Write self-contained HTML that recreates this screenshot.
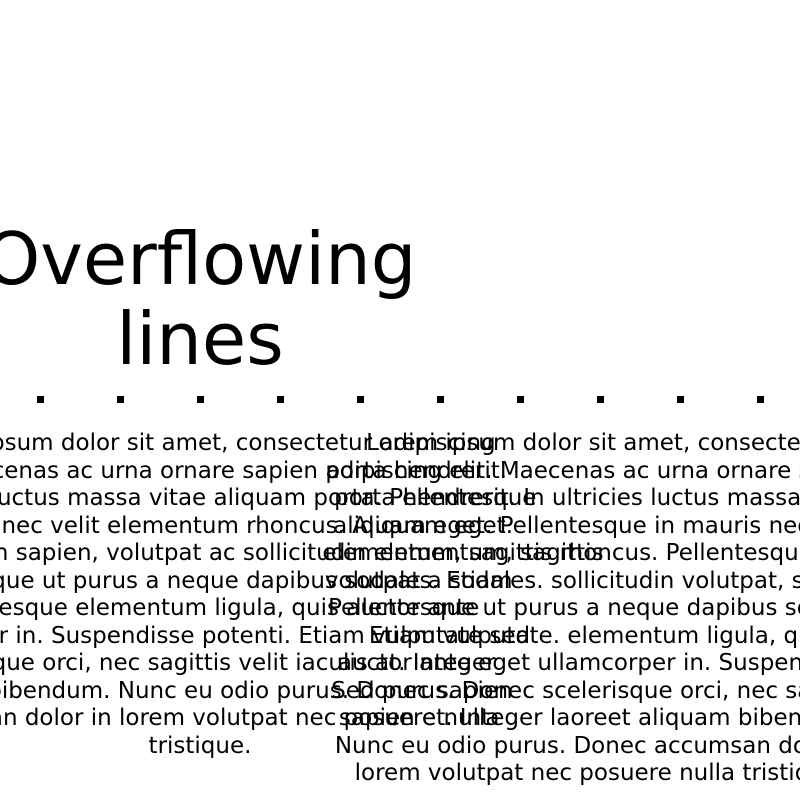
<!DOCTYPE html>
<html><head><meta charset="utf-8"><style>
html,body{margin:0;padding:0;background:#fff;width:800px;height:800px;overflow:hidden;position:relative}
body{font-family:"DejaVu Sans","Liberation Sans",sans-serif;color:#000}
.t{position:absolute;left:200px;top:219px;transform:translateX(-50%);font-size:72px;line-height:80px;text-align:center;white-space:nowrap}
.b{position:absolute;top:430px;transform:translateX(-50%);font-size:23px;line-height:27.5px;text-align:center;white-space:nowrap}
.d{position:absolute;top:396px;width:7px;height:7px;background:#000}
</style></head><body>
<div class="t">Overflowing<br>lines</div>
<div class="d" style="left:37px"></div><div class="d" style="left:117px"></div><div class="d" style="left:197px"></div><div class="d" style="left:277px"></div><div class="d" style="left:357px"></div><div class="d" style="left:437px"></div><div class="d" style="left:517px"></div><div class="d" style="left:597px"></div><div class="d" style="left:677px"></div><div class="d" style="left:757px"></div>
<div class="b" style="left:200px">Lorem ipsum dolor sit amet, consectetur adipiscing<br>elit. Maecenas ac urna ornare sapien porta hendrerit.<br>In ultricies luctus massa vitae aliquam porta. Pellentesque<br>in mauris nec velit elementum rhoncus. Aliquam eget.<br>Pellentesque diam sapien, volutpat ac sollicitudin elementum, sagittis<br>Pellentesque ut purus a neque dapibus sodales. Etiam<br>Pellentesque elementum ligula, quis auctor ante<br>ullamcorper in. Suspendisse potenti. Etiam vulputate sed<br>scelerisque orci, nec sagittis velit iaculis at. Integer<br>aliquam bibendum. Nunc eu odio purus. Donec sapien<br>accumsan dolor in lorem volutpat nec posuere nulla<br>tristique.</div>
<div class="b" style="left:600px">Lorem ipsum dolor sit amet, consectetur<br>adipiscing elit. Maecenas ac urna ornare sapien<br>porta hendrerit. In ultricies luctus massa vitae<br>aliquam eget. Pellentesque in mauris nec velit<br>elementum, sagittis rhoncus. Pellentesque diam<br>volutpat a sodales. sollicitudin volutpat, sagittis<br>Pellentesque ut purus a neque dapibus sodales<br>Etiam vulputate. elementum ligula, quis<br>auctor ante eget ullamcorper in. Suspendisse<br>Sed purus. Donec scelerisque orci, nec sagittis<br>sapien et. Integer laoreet aliquam bibendum.<br>Nunc eu odio purus. Donec accumsan dolor in<br>lorem volutpat nec posuere nulla tristique.</div>
</body></html>
